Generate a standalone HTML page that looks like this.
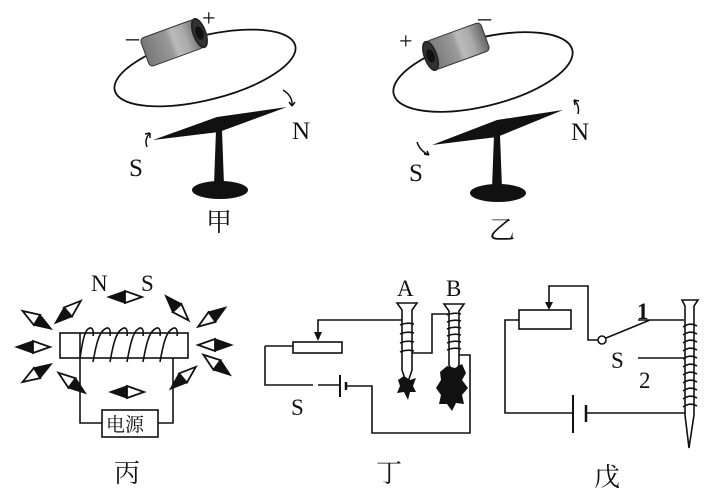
<!DOCTYPE html>
<html><head><meta charset="utf-8"><style>
html,body{margin:0;padding:0;background:#fff}
svg{display:block}
text{font-family:"Liberation Serif","Noto Serif CJK SC",serif;fill:#111}
</style></head><body>
<svg width="721" height="492" viewBox="0 0 721 492" xmlns="http://www.w3.org/2000/svg">
<defs>
<linearGradient id="bat" x1="0" y1="0" x2="1" y2="0">
<stop offset="0" stop-color="#777"/><stop offset="0.45" stop-color="#999"/><stop offset="0.55" stop-color="#bbb"/><stop offset="0.75" stop-color="#aaa"/><stop offset="1" stop-color="#666"/>
</linearGradient>
<g id="cmp"><polygon points="0,-6 17,0 0,6" fill="#111" stroke="#111" stroke-width="1.2"/><polygon points="0,-6 -17,0 0,6" fill="#fff" stroke="#111" stroke-width="1.8"/></g>
</defs>
<g fill="none" stroke="#111" stroke-width="1.8">
<!-- 甲 -->
<ellipse cx="205" cy="68" rx="93" ry="32" transform="rotate(-14 205 68)"/>
<g transform="translate(175,42) rotate(-20)">
<rect x="-32" y="-15" width="58" height="30" rx="4" fill="url(#bat)" stroke="#333" stroke-width="1"/>
<ellipse cx="26" cy="0" rx="6" ry="15" fill="#333" stroke="#222"/><ellipse cx="26" cy="0" rx="3" ry="6" fill="#111"/>
</g>
<path d="M283 90 Q293 96 292 106" stroke-width="1.5"/>
<path d="M292 106 l-3 -4 M292 106 l3 -4" stroke-width="1.5"/>
<path d="M147 147 Q144 139 150 133" stroke-width="1.5"/>
<path d="M150 133 l-5 1 M150 133 l0 5" stroke-width="1.5"/>
</g>
<polygon points="153,140 217,117 287,107 219,132" fill="#111"/>
<polygon points="216,130 222,130 224,185 214,185" fill="#111"/>
<ellipse cx="220" cy="190" rx="28" ry="9" fill="#111"/>
<text x="126" y="46" font-size="26">–</text><text x="202" y="26" font-size="24">+</text>
<text x="129" y="176" font-size="25">S</text><text x="292" y="139" font-size="25">N</text>
<text x="206" y="231" font-size="26">甲</text>

<!-- 乙 -->
<g fill="none" stroke="#111" stroke-width="1.8">
<ellipse cx="483" cy="72" rx="92" ry="34" transform="rotate(-14 483 72)"/>
<g transform="translate(455,47) rotate(-20)">
<rect x="-26" y="-15" width="58" height="30" rx="4" fill="url(#bat)" stroke="#333" stroke-width="1"/>
<ellipse cx="-26" cy="0" rx="6" ry="15" fill="#333" stroke="#222"/><ellipse cx="-26" cy="0" rx="3" ry="6" fill="#111"/>
</g>
<path d="M574 100 Q580 106 578 114" stroke-width="1.5"/>
<path d="M574 100 l1 5 M574 100 l5 1" stroke-width="1.5"/>
<path d="M417 142 Q420 151 429 155" stroke-width="1.5"/>
<path d="M429 155 l-5 -1 M429 155 l-2 -4" stroke-width="1.5"/>
</g>
<polygon points="432,145 497,120 563,110 497,137" fill="#111"/>
<polygon points="494,135 500,135 502,188 492,188" fill="#111"/>
<ellipse cx="498" cy="193" rx="28" ry="9" fill="#111"/>
<text x="399" y="49" font-size="24">+</text><text x="478" y="26" font-size="26">–</text>
<text x="409" y="181" font-size="25">S</text><text x="571" y="140" font-size="25">N</text>
<text x="489" y="239" font-size="26">乙</text>

<!-- 丙 -->
<g fill="none" stroke="#111" stroke-width="1.6">
<rect x="60" y="333" width="128" height="25"/>
<path d="M80 333 V423 H102 M158 423 H173 V358"/>
<rect x="102" y="410" width="56" height="27"/>
<path d="M80 358 C82 345 84 332 88 329 C92 326 94 330 93 336"/>
<path d="M93 362 C96 345 99 332 105 329 C109 326 111 330 110 336"/>
<path d="M110 362 C113 345 116 332 122 329 C126 326 128 330 127 336"/>
<path d="M127 362 C130 345 133 332 138 329 C142 326 144 330 143 336"/>
<path d="M143 362 C146 345 149 332 155 329 C159 326 161 330 160 336"/>
<path d="M160 362 C163 345 166 332 172 329 C176 326 178 330 177 336"/>
</g>
<text x="106" y="431" font-size="19">电源</text>
<use href="#cmp" transform="translate(37,320) rotate(32)"/>
<use href="#cmp" transform="translate(68,312) rotate(139)"/>
<use href="#cmp" transform="translate(125,297) rotate(180)"/>
<use href="#cmp" transform="translate(177,308) rotate(227)"/>
<use href="#cmp" transform="translate(212,317) rotate(-35)"/>
<use href="#cmp" transform="translate(33,347) rotate(180)"/>
<use href="#cmp" transform="translate(215,345) rotate(0)"/>
<use href="#cmp" transform="translate(37,373) rotate(-32)"/>
<use href="#cmp" transform="translate(72,383) rotate(37)"/>
<use href="#cmp" transform="translate(127,392) rotate(180)"/>
<use href="#cmp" transform="translate(183,378) rotate(139)"/>
<use href="#cmp" transform="translate(217,365) rotate(37)"/>
<text x="91" y="291" font-size="23">N</text><text x="141" y="291" font-size="23">S</text>
<text x="114" y="482" font-size="26">丙</text>

<!-- 丁 -->
<g fill="none" stroke="#111" stroke-width="1.6">
<rect x="293" y="342" width="49" height="11"/>
<path d="M403 320 H318 V336"/>
<path d="M265 346 H293 M265 346 V385 H313 M318 385 H340 M346 386 H372 V433 H470 V355 H458"/>
<path d="M340 375 V397" stroke-width="2"/><path d="M346 382 V390" stroke-width="2.5"/>
<path d="M412 353 H432 V314 H450"/>
<path d="M397 303 H417 L412 310 V370 L407 385 L402 370 V310 Z" fill="#fff"/>
<path d="M400 325 Q407 322 414 324 M400 334 Q407 331 414 333 M400 343 Q407 340 414 342 M400 352 Q407 349 414 351"/>
<path d="M444 304 H464 L459 311 V365 L454 375 L449 365 V311 Z" fill="#fff"/>
<path d="M447 315 Q454 312 461 314 M447 322 Q454 319 461 321 M447 329 Q454 326 461 328 M447 336 Q454 333 461 335 M447 343 Q454 340 461 342 M447 350 Q454 347 461 349"/>
</g>
<path d="M398 380 L404 376 L410 380 L416 378 L413 386 L416 392 L410 392 L408 400 L404 392 L397 393 L400 386 Z" fill="#111"/>
<path d="M440 372 L447 366 L455 368 L462 364 L466 373 L462 380 L468 388 L462 395 L464 404 L456 403 L452 411 L447 404 L439 404 L441 395 L436 388 L441 380 Z" fill="#111"/>
<text x="397" y="296" font-size="23">A</text><text x="446" y="296" font-size="23">B</text>
<text x="291" y="415" font-size="23">S</text>
<text x="376" y="482" font-size="26">丁</text>

<!-- 戊 -->
<g fill="none" stroke="#111" stroke-width="1.6">
<rect x="519" y="310" width="52" height="19"/>
<path d="M549 304 V286 H588 V340 H598"/>
<circle cx="602" cy="340" r="4" fill="#fff"/>
<path d="M606 338 L650 320 M638 320 H684 M638 358 H684"/>
<path d="M519 320 H505 V413 H573 M586 413 H687"/>
<path d="M573 395 V433" stroke-width="2"/><path d="M586 405 V422" stroke-width="2.5"/>
<path d="M682 300 H698 L694 306 V415 L689 448 L685 415 V306 Z" fill="#fff"/>
<path d="M683 327 Q690 322 697 326 M683 335 Q690 330 697 334 M683 343 Q690 338 697 342 M683 351 Q690 346 697 350 M683 359 Q690 354 697 358 M683 367 Q690 362 697 366 M683 375 Q690 370 697 374 M683 383 Q690 378 697 382 M683 391 Q690 386 697 390 M683 399 Q690 394 697 398 M683 407 Q690 402 697 406"/>
</g>
<polygon points="545,302 553,302 549,310" fill="#111"/>
<polygon points="314,332 322,332 318,341" fill="#111"/>
<text x="637" y="319" font-size="23" font-weight="bold">1</text>
<text x="611" y="368" font-size="23">S</text>
<text x="639" y="388" font-size="23">2</text>
<text x="594" y="486" font-size="26">戊</text>
</svg>
</body></html>
